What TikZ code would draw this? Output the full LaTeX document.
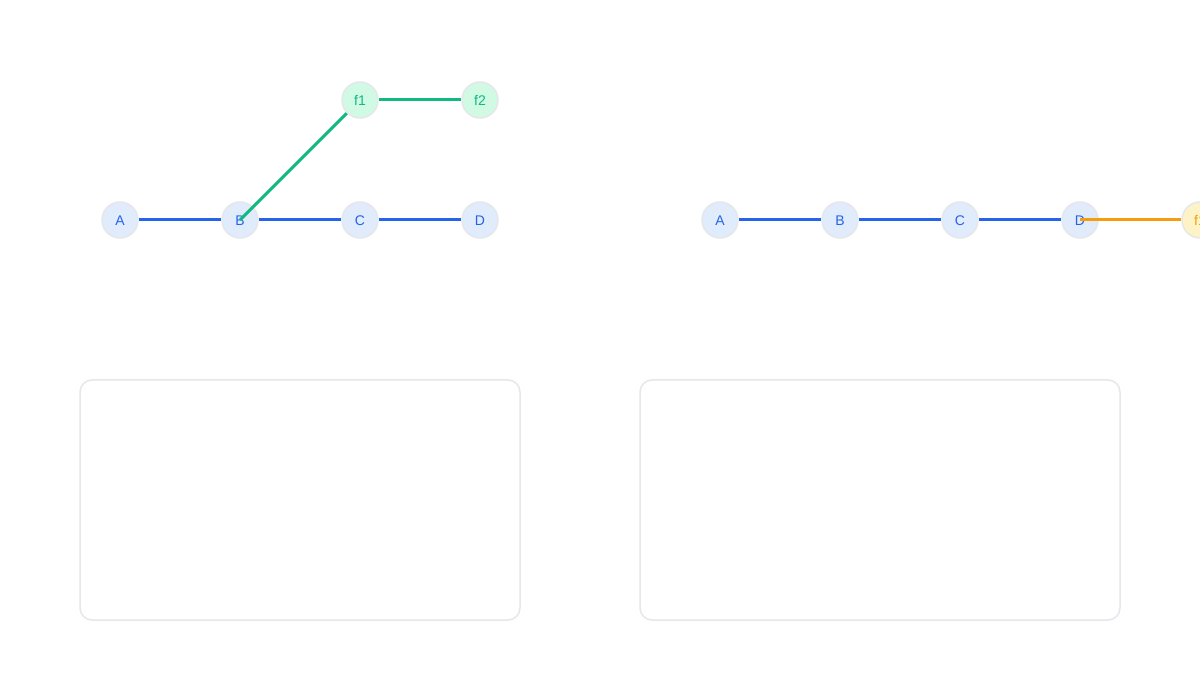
\documentclass[tikz,border=0pt]{standalone}
\usepackage{fontspec}
\setmainfont{Liberation Sans}
\usetikzlibrary{backgrounds}
\definecolor{nodeblue}{HTML}{E0EBFC}
\definecolor{txtblue}{HTML}{2563EB}
\definecolor{ring}{HTML}{E5E7EB}
\definecolor{green1}{HTML}{10B981}
\definecolor{greenfill}{HTML}{D1FAE5}
\definecolor{orange1}{HTML}{F59E0B}
\definecolor{orangefill}{HTML}{FEF3C7}
\tikzset{
  vtx/.style={circle, minimum size=36pt, inner sep=0pt, draw=ring, line width=1.5pt, fill=nodeblue, text=txtblue, font=\fontsize{14}{16}\selectfont, text height=12pt, text depth=0pt},
  gvtx/.style={vtx, fill=greenfill, text=green1},
  ovtx/.style={vtx, fill=orangefill, text=orange1},
  bedge/.style={draw=txtblue, line width=3pt},
  gedge/.style={draw=green1, line width=3pt},
  oedge/.style={draw=orange1, line width=3pt},
  panel/.style={draw=ring, line width=1.5pt, rounded corners=12pt}
}
\begin{document}
\begin{tikzpicture}[x=1pt,y=-1pt]
\clip (0,0) rectangle (1200,700);
% left graph
\node[vtx] (A1) at (120,220) {A};
\node[vtx] (B1) at (240,220) {B};
\node[vtx] (C1) at (360,220) {C};
\node[vtx] (D1) at (480,220) {D};
\node[gvtx] (F1) at (360,100) {f1};
\node[gvtx] (F2) at (480,100) {f2};
% right graph
\node[vtx] (A2) at (720,220) {A};
\node[vtx] (B2) at (840,220) {B};
\node[vtx] (C2) at (960,220) {C};
\node[vtx] (D2) at (1080,220) {D};
\node[ovtx] (G1) at (1200,220) {f1};
\begin{scope}[on background layer]
\fill[white] (0,0) rectangle (1200,700);
\draw[bedge] (A1) -- (B1);
\draw[bedge] (B1) -- (C1);
\draw[bedge] (C1) -- (D1);
\draw[bedge] (A2) -- (B2);
\draw[bedge] (B2) -- (C2);
\draw[bedge] (C2) -- (D2);
\draw[gedge] (F1) -- (F2);
\end{scope}
\draw[gedge] (B1.center) -- (F1);
\draw[oedge] (D2.center) -- (G1);
% panels
\node[panel, minimum width=440pt, minimum height=240pt, inner sep=0pt] (P1) at (300,500) {};
\node[panel, minimum width=480pt, minimum height=240pt, inner sep=0pt] (P2) at (880,500) {};
\end{tikzpicture}
\end{document}
